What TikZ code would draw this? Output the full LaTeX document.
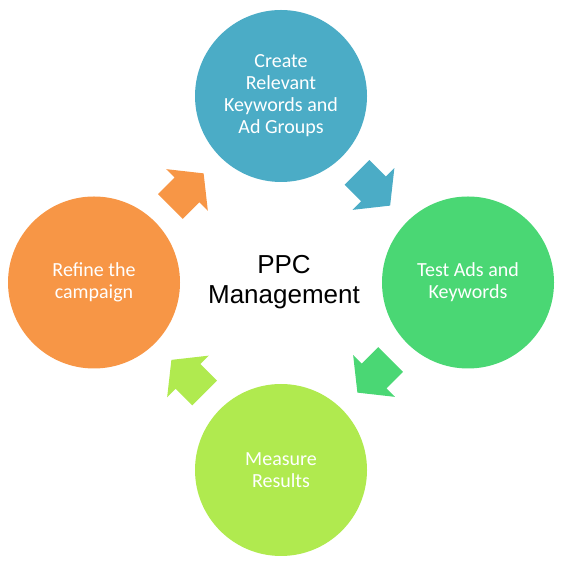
\documentclass[tikz,border=0pt]{standalone}
\usepackage{fontspec}
\setmainfont{Carlito}
\newfontfamily\titlefont{Liberation Sans}
\usetikzlibrary{positioning}

\definecolor{stepblue}{HTML}{4BACC6}
\definecolor{stepgreen}{HTML}{4AD774}
\definecolor{steplime}{HTML}{B0EA4F}
\definecolor{steporange}{HTML}{F79646}

\begin{document}
\begin{tikzpicture}[
                x=1pt, y=1pt,
                stage/.style={circle, fill=#1, minimum size=172pt, inner sep=0pt,
                              align=center, text=white,
                              font=\fontsize{20}{22}\selectfont},
                title/.style={align=center, font=\titlefont\fontsize{26}{30.5}\selectfont},
                pics/blockarrow/.style={code={
                    \fill[#1] (-23.5,-17.5) -- (0,-17.5) -- (0,-29.5) -- (23.5,0)
                              -- (0,29.5) -- (0,17.5) -- (-23.5,17.5) -- cycle;}}
            ]
                \useasboundingbox (0,0) rectangle (569,569);

                % the four stages
                \node[stage=stepblue]   (create)  at (281,473)   {Create\\Relevant\\Keywords and\\Ad Groups};
                \node[stage=stepgreen]  (test)    at (468,286.5) {Test Ads and\\Keywords};
                \node[stage=steplime]   (measure) at (281,99)    {Measure\\Results};
                \node[stage=steporange] (refine)  at (94,286.5)  {Refine the\\campaign};

                \node[title] (ppc) at (284,287) {PPC\\Management};

                % arrows between the stages
                \pic[rotate=-45]  at (373.5,380) {blockarrow=stepblue};
                \pic[rotate=-135] at (374,193)   {blockarrow=stepgreen};
                \pic[rotate=135]  at (188,192.5) {blockarrow=steplime};
                \pic[rotate=45]   at (187,379)   {blockarrow=steporange};
            \end{tikzpicture}
\end{document}
